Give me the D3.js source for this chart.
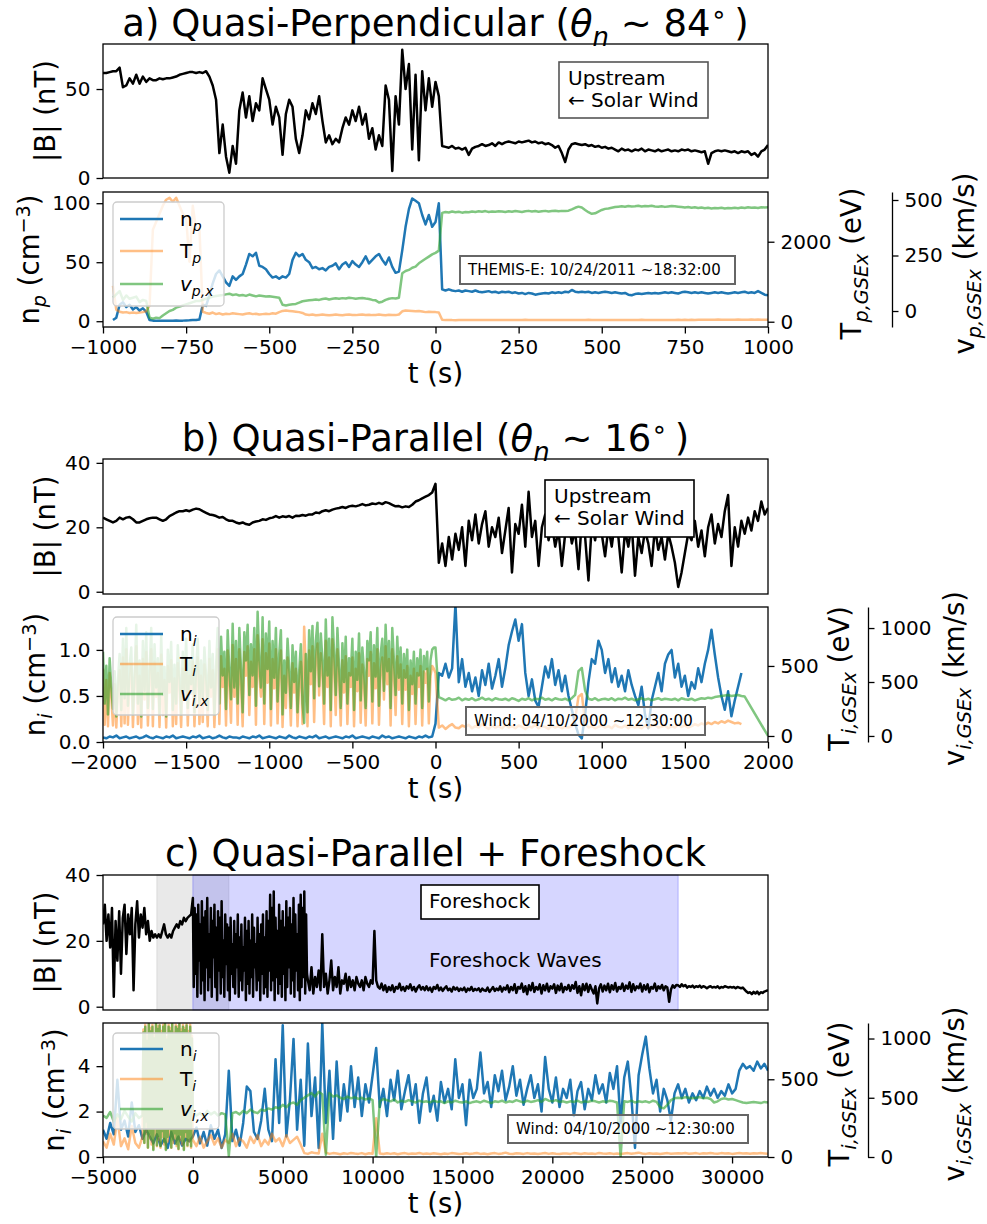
<!DOCTYPE html>
<html>
<head>
<meta charset="utf-8">
<script src="https://cdn.jsdelivr.net/npm/d3@7"></script>
<style>
  body { margin: 0; background: #fff; }
</style>
</head>
<body>
<script>
// ---------- data: panel a (THEMIS-E, quasi-perpendicular) ----------
// all series sampled every 10 s starting at t = -1000 s
const aStart = -1000, aStep = 10;
const bA = [
  59, 59, 59.5, 60, 60, 62, 51, 52, 56, 53,
  58, 53, 57, 54, 56, 55, 55, 56, 55.5, 56,
  56, 56.5, 57, 58, 58.5, 59, 59.5, 59.5, 59, 59.5,
  59, 60, 57, 52, 44, 14, 30, 12, 3, 18,
  8, 38, 48, 34, 46, 32, 42, 38, 56, 50,
  44, 30, 40, 34, 13, 36, 44, 40, 22, 14,
  24, 38, 33, 42, 36, 46, 32, 20, 24, 19,
  22, 20, 28, 34, 30, 38, 32, 40, 30, 36,
  22, 28, 16, 24, 18, 52, 44, 4, 46, 30,
  72, 50, 64, 16, 58, 10, 60, 38, 56, 40,
  54, 46, 18, 17.5, 17, 18, 16.5, 17, 16, 17,
  13, 16.5, 17.5, 18, 19, 18, 18.5, 19.5, 18, 20,
  19, 20, 20.5, 20, 19.5, 20.5, 20, 20.5, 21, 20,
  20.5, 19.5, 20, 19, 19.5, 18.5, 17, 18, 14, 9,
  16, 19, 19.5, 19, 18.5, 19, 18, 18.5, 17.5, 18,
  17, 17.5, 16.5, 17, 16, 15, 16.5, 15.5, 16, 15,
  16, 15.5, 16.5, 15, 16, 15.5, 15, 16, 15, 15.5,
  16, 15, 15.5, 15, 16, 15.5, 16, 15, 15.5, 15,
  14.5, 15, 8, 14, 15, 15.5, 15, 15.5, 15, 14.5,
  15, 14, 15, 14.5, 15, 13, 14, 12, 15, 16,
  18.5
];
const nA = [
  null, null, null, 1, 3, 14, 16, 12, 14, 10,
  12, 9, 11, 8, 1, 0.5, 0.5, 0.3, 0.5, 0.4,
  0.5, 0.5, 0.6, 0.5, 0.5, 0.7, 0.8, 1, 1, 1.5,
  14, 13, 22, 32, 40, 43, 38, 33, 30, 38,
  35, 38, 40, 48, 57, 55, 58, 47, 46, 44,
  40, 37, 38, 36, 38, 37, 40, 52, 58, 55,
  57, 52, 50, 45, 46, 44, 45, 43, 46, 47,
  49, 44, 48, 50, 46, 51, 48, 46, 50, 55,
  49, 52, 55, 57, 52, 48, 54, 46, 41, 42,
  60, 80, 95, 104, 102, 100, 90, 82, 90, 80,
  84, 100, 27, 26, 27, 26, 25.5, 26, 25, 26,
  25.5, 25, 26, 25, 24.5, 25, 25.5, 24.5, 25, 24,
  25, 24.5, 25, 24, 24.5, 23.5, 24, 23, 24, 23.5,
  22.5, 23, 23.5, 24, 23.5, 24.5, 24, 24.5, 24, 25,
  24.5, 26.5, 25, 24.5, 25, 24.5, 25, 24, 24.5, 24,
  24.5, 25, 24.5, 24, 24.5, 24, 23.5, 24, 22.5, 22,
  23, 23.5, 23, 23.5, 24, 23.5, 24, 23.5, 24, 24.5,
  24, 24.5, 24, 23.5, 24.5, 25, 24.5, 24, 24.5, 24,
  24.5, 24, 23.5, 24, 24.5, 24, 24.5, 24, 23.5, 24,
  24.5, 24, 24.5, 25, 24, 24.5, 24, 25.5, 24, 22.5,
  22
];
const tempA = [
  null, null, null, 900, 300, 250, 230, 240, 220, 230,
  220, 230, 240, 260, 400, 2300, 2500, 2700, 2900, 3050,
  3100, 3000, 3100, 2900, 2700, 2600, 1500, 2900, 2300, 2350,
  250, 220, 200, 230, 190, 210, 180, 200, 190, 210,
  200, 190, 180, 200, 210, 190, 200, 180, 190, 200,
  190, 210, 200, 240, 270, 280, 270, 260, 250, 240,
  220, 180, 170, 180, 160, 170, 180, 170, 160, 170,
  180, 170, 160, 175, 180, 170, 165, 175, 180, 170,
  175, 165, 170, 180, 170, 160, 175, 170, 165, 180,
  260, 280, 275, 270, 260, 270, 255, 240, 250, 245,
  240, 230, 50, 40, 45, 40, 38, 42, 40, 45,
  42, 45, 40, 44, 41, 46, 43, 40, 45, 42,
  44, 41, 46, 42, 40, 45, 43, 47, 42, 44,
  40, 45, 43, 41, 46, 44, 42, 45, 40, 43,
  46, 42, 44, 40, 45, 43, 47, 42, 44, 41,
  45, 43, 40, 46, 42, 44, 41, 45, 43, 46,
  42, 44, 47, 43, 45, 41, 46, 44, 42, 45,
  43, 46, 44, 48, 45, 47, 44, 49, 46, 48,
  50, 47, 52, 48, 50, 53, 49, 51, 48, 52,
  50, 53, 49, 52, 51, 54, 50, 53, 51, 52,
  50
];
const vA = [
  null, null, null, 60, 75, 90, 50, 70, 55, 60,
  65, 40, 50, 45, -30, -35, -30, -32, -20, -10,
  0, 5, 15, 20, 25, 30, 35, 40, 45, 45,
  50, 55, 60, 65, 68, 70, 72, 75, 78, 72,
  75, 70, 72, 68, 74, 70, 66, 70, 68, 65,
  66, 64, 62, 60, 28, 25, 28, 30, 32, 38,
  44, 46, 48, 50, 52, 50, 54, 56, 52, 55,
  57, 55, 58, 56, 60, 58, 55, 57, 59, 56,
  54, 50, 48, 38, 42, 50, 55, 58, 56, 60,
  170, 180, 185, 195, 200, 215, 225, 235, 245, 255,
  262, 272, 442, 446, 444, 448, 445, 447, 443, 446,
  445, 448, 446, 449, 447, 450, 446, 448, 447, 449,
  448, 446, 449, 447, 450, 448, 446, 449, 451, 448,
  450, 447, 449, 451, 448, 450, 452, 449, 451, 450,
  452, 458, 465, 470, 466, 455, 445, 438, 440, 448,
  455, 460, 462, 465, 468, 470, 472, 470, 473, 471,
  472, 474, 471, 473, 472, 474, 471, 470, 472, 469,
  471, 473, 472, 470, 468, 466, 468, 465, 467, 464,
  466, 463, 465, 462, 464, 463, 465, 462, 464, 463,
  465, 463, 466, 464, 467, 465, 466, 464, 467, 466,
  467
];

// ---------- data: panel b (Wind, quasi-parallel) ----------
// |B| and n every 20 s from t = -2000 s
const bStart = -2000, bStep = 20;
const bB = [
  23, 22.5, 22, 21.5, 22, 23, 22.5, 23, 23.2, 22.5,
  21.5, 21.5, 22, 22.5, 22.8, 23, 23, 22.5, 22, 22.5,
  23.5, 24, 24.6, 25, 25, 25.3, 25, 25.5, 25.8, 25.6,
  25, 24.5, 24, 23.8, 23.5, 23, 23.2, 22.5, 22, 22,
  21.5, 21.2, 21.5, 21, 20.8, 21.5, 21.8, 22, 22.5, 22.3,
  22.8, 23, 23.5, 23, 23.4, 23.2, 23.5, 23, 23.6, 23.5,
  23.8, 23.6, 24, 24, 24.6, 24.4, 25, 25.3, 25, 25.5,
  25.8, 26, 26.3, 26, 26.5, 26.7, 26.5, 26.8, 27.2, 26.8,
  27, 27.4, 27.2, 27.6, 27.2, 27.8, 27.5, 27, 26.5, 26.6,
  26.2, 26.5, 26.3, 27, 28, 28.4, 29, 29.5, 30, 30.8,
  33.5,
  9, 15, 8, 17, 10, 18, 13, 20, 8, 22,
  16, 24, 15, 21, 25, 14, 20, 17, 23, 12,
  19, 26, 6, 21, 18, 27, 14, 31, 17, 22,
  8, 20, 24, 16, 21, 14, 19, 8, 18, 22,
  15, 19, 7, 22, 17, 3.5, 21, 16, 23, 18,
  11, 20, 14, 22, 17, 6, 19, 14, 21, 5,
  17, 12, 19, 15, 8, 20, 13, 17, 10, 18,
  14, 9, 1.5, 6, 12, 18, 16, 22, 14, 19,
  11, 20, 24, 15, 21, 17, 25, 30, 8, 20,
  14, 22, 18, 23, 19, 25, 22, 28, 24, 26
];
const nB = [
  0.05, 0.04, 0.06, 0.05, 0.07, 0.04, 0.05, 0.06, 0.04, 0.05,
  0.06, 0.04, 0.05, 0.07, 0.05, 0.04, 0.06, 0.05, 0.04, 0.06,
  0.05, 0.07, 0.04, 0.05, 0.06, 0.05, 0.04, 0.06, 0.05, 0.07,
  0.04, 0.05, 0.06, 0.04, 0.05, 0.07, 0.05, 0.04, 0.06, 0.05,
  0.05, 0.04, 0.06, 0.05, 0.04, 0.06, 0.05, 0.07, 0.04, 0.05,
  0.06, 0.05, 0.04, 0.06, 0.05, 0.04, 0.07, 0.05, 0.04, 0.06,
  0.05, 0.04, 0.06, 0.05, 0.07, 0.04, 0.05, 0.06, 0.04, 0.05,
  0.06, 0.05, 0.04, 0.06, 0.05, 0.07, 0.04, 0.05, 0.06, 0.05,
  0.04, 0.06, 0.05, 0.04, 0.07, 0.05, 0.06, 0.04, 0.05, 0.06,
  0.05, 0.04, 0.06, 0.05, 0.04, 0.06, 0.05, 0.07, 0.05, 0.06,
  0.2,
  0.75, 0.72, 0.85, 0.7, 0.8, 1.5, 0.65, 0.9, 0.6, 0.75,
  0.55, 0.7, 0.5, 0.78, 0.62, 0.85, 0.58, 0.72, 0.9, 0.6,
  0.8, 1.05, 1.2, 1.33, 1.1, 1.28, 0.75, 0.5, 0.68, 0.45,
  0.38, 0.6, 0.82, 0.7, 0.9, 0.62, 0.78, 0.55, 0.72, 0.5,
  0.35, 0.2, 0.08, 0.04, 0.3, 0.65, 0.9, 0.85, 1.1, 1.0,
  0.75, 0.9, 0.65, 0.8, 0.6, 0.72, 0.55, 0.78, 0.62, 0.5,
  0.4, 0.6, 0.3, 0.15, 0.45, 0.6, 0.75, 0.55, 0.85, 0.95,
  1.0, 0.7, 0.85, 0.6, 0.72, 0.5, 0.65, 0.58, 0.8, 0.65,
  0.85, 1.0, 1.22, 0.95, 0.7, 0.5, 0.35, 0.55, 0.28, 0.45,
  0.6, 0.75, null, null, null, null, null, null, null, null
];
// T and v upstream of the shock: every 10 s from -2000 s to -10 s
const tempBpre = [
  480, 80, 400, 70, 450, 280, 75, 370, 60, 320,
  470, 70, 560, 90, 620, 80, 400, 510, 65, 350,
  640, 85, 430, 60, 550, 260, 600, 75, 370, 620,
  70, 530, 280, 450, 65, 580, 150, 400, 60, 500,
  310, 540, 70, 410, 85, 520, 350, 65, 480, 260,
  560, 75, 430, 300, 530, 70, 380, 560, 85, 430,
  100, 510, 350, 70, 550, 280, 470, 65, 400, 620,
  85, 570, 350, 480, 75, 610, 370, 95, 650, 280,
  550, 80, 620, 380, 70, 600, 430, 640, 150, 530,
  350, 620, 80, 720, 430, 280, 690, 85, 590, 380,
  660, 75, 550, 340, 620, 90, 470, 610, 65, 430,
  200, 560, 380, 75, 520, 310, 480, 70, 370, 530,
  85, 780, 470, 70, 610, 370, 640, 100, 550, 660,
  290, 590, 430, 85, 680, 350, 560, 70, 690, 480,
  150, 620, 400, 75, 540, 310, 570, 85, 450, 350,
  560, 70, 480, 320, 590, 95, 510, 370, 75, 550,
  430, 600, 90, 520, 340, 620, 80, 470, 560, 260,
  640, 370, 550, 75, 620, 430, 150, 570, 330, 510,
  85, 470, 330, 500, 70, 430, 300, 480, 85, 450,
  350, 500, 75, 460, 380, 480, 90, 430, 500, 480
];
const vBpre = [
  780, 300, 650, 200, 720, 450, 250, 600, 180, 520,
  760, 240, 900, 350, 1000, 280, 650, 820, 200, 560,
  1030, 300, 700, 180, 880, 420, 960, 260, 600, 1000,
  250, 850, 450, 720, 200, 930, 380, 640, 180, 800,
  500, 870, 240, 660, 300, 840, 560, 200, 780, 420,
  900, 260, 700, 480, 850, 220, 620, 900, 300, 700,
  350, 820, 560, 240, 880, 450, 760, 200, 640, 1000,
  300, 920, 560, 780, 250, 980, 600, 340, 1040, 450,
  880, 300, 1000, 620, 220, 960, 700, 1030, 380, 850,
  560, 1000, 280, 1150, 700, 450, 1100, 300, 950, 620,
  1060, 250, 880, 540, 1000, 320, 760, 980, 200, 700,
  400, 900, 620, 260, 840, 500, 780, 220, 600, 850,
  300, 120, 760, 220, 980, 600, 1020, 350, 880, 1050,
  460, 950, 700, 300, 1080, 560, 900, 240, 1100, 780,
  380, 1000, 640, 260, 860, 500, 920, 300, 720, 560,
  900, 240, 780, 520, 950, 330, 820, 600, 260, 880,
  700, 960, 320, 840, 550, 1000, 280, 760, 900, 420,
  1030, 600, 880, 260, 1000, 700, 380, 920, 540, 820,
  300, 760, 540, 800, 240, 700, 480, 780, 300, 720,
  560, 800, 260, 740, 620, 780, 320, 700, 800, 820
];
// T and v downstream: every 20 s from 0 s to 2000 s
const tempBpost = [
  450,
  60, 75, 50, 70, 85, 60, 55, 75, 65, 80,
  55, 70, 60, 85, 65, 50, 75, 60, 70, 55,
  80, 60, 70, 55, 75, 65, 50, 70, 60, 80,
  55, 70, 65, 50, 75, 60, 70, 55, 65, 60,
  70, 120, 280, 300, 90, 60, 70, 55, 65, 75,
  60, 70, 55, 80, 65, 60, 75, 55, 70, 60,
  65, 55, 75, 60, 70, 80, 60, 65, 75, 55,
  70, 60, 80, 65, 75, 60, 70, 85, 75, 90,
  80, 95, 85, 100, 90, 105, 95, 110, 100, 90,
  95, 85, null, null, null, null, null, null, null, null
];
const vBpost = [
  820,
  360, 345, 330, 350, 335, 340, 355, 330, 345, 335,
  350, 330, 340, 355, 335, 345, 330, 350, 340, 335,
  345, 330, 350, 340, 325, 345, 335, 350, 330, 345,
  340, 355, 335, 345, 330, 350, 340, 335, 345, 330,
  350, 380, 600, 630, 420, 345, 335, 350, 330, 340,
  345, 335, 350, 330, 345, 340, 355, 335, 345, 330,
  340, 350, 335, 345, 330, 340, 350, 335, 345, 340,
  335, 345, 330, 350, 340, 335, 345, 330, 340, 350,
  345, 355, 350, 360, 365, 370, 375, 380, 370, 375,
  380, 370, 365, null, null, null, null, null, null, 0
];

// ---------- data: panel c (Wind, quasi-parallel + foreshock) ----------
// |B|: every 100 s before the shock, every 50 s across 0-6350 s, every 100 s after
const bCpre = [
  25, 31, 20, 28, 18, 30, 3, 26, 14, 29,
  10, 27, 31, 16, 28, 22, 30, 5, 25, 32,
  21, 28, 24, 30, 22, 26, 20, 23, 21, 22,
  21, 22, 21, 23, 25, 22, 21, 22, 21, 23,
  24, 25, 24, 26, 25, 27, 26, 27, 27.5, 28
];
const bCshock = [
  33, 6, 30, 10, 28, 3, 31, 14, 25, 4,
  32, 8, 27, 2, 29, 12, 33, 5, 22, 9,
  30, 3, 26, 15, 31, 6, 24, 2, 29, 11,
  27, 4, 32, 9, 20, 3, 28, 13, 25, 5,
  24, 2, 27, 10, 19, 6, 26, 4, 22, 12,
  28, 3, 21, 8, 25, 5, 18, 11, 27, 2,
  23, 7, 26, 4, 20, 9, 28, 3, 24, 12,
  19, 5, 27, 8, 22, 2, 25, 10, 28, 4,
  21, 6, 29, 3, 26, 11, 34, 5, 30, 8,
  35, 2, 27, 9, 23, 4, 31, 7, 26, 3,
  29, 10, 24, 2, 32, 6, 27, 12, 30, 4,
  25, 8, 33, 3, 28, 11, 22, 5, 31, 2,
  34, 6, 30, 9, 35, 4, 28, 10
];
const bCpost = [
  8, 5, 12, 4, 9, 6,
  11, 5, 22, 6, 10, 4, 8, 14, 5, 9,
  6, 12, 4, 8, 7, 10, 5, 9, 6, 8,
  5, 9, 7, 6, 8, 5, 9, 7, 6, 8,
  7, 23, 8, 6, 5.5, 7, 5, 6.5, 4.5, 6,
  5, 6.5, 4.5, 6, 5.5, 7, 5, 6, 4.8, 6.2,
  5.5, 6.8, 5, 6, 4.6, 5.8, 6.5, 5.2, 6, 5,
  6.2, 5, 5.8, 4.5, 6, 5.4, 6.6, 5, 5.8, 4.8,
  5.6, 6.2, 5, 5.5, 4.6, 6, 5.2, 5.8, 4.8, 5.5,
  5, 5.8, 4.5, 5.5, 5, 6, 4.8, 5.4, 5, 5.6,
  4.6, 5.5, 5, 4.8, 5.8, 4.5, 5.2, 6, 4.8, 5.5,
  5, 6.2, 4.6, 5.8, 5.2, 6.5, 4.4, 6, 5, 6.8,
  4.2, 6, 5.5, 7, 4.5, 6.2, 3.8, 6.5, 5, 7.2,
  4.5, 6, 5.2, 6.8, 4, 6.5, 5, 7, 4.6, 6.2,
  5.5, 6.8, 4.2, 6.4, 5, 7, 4.4, 6, 5.2, 6.6,
  4.8, 6.5, 5.5, 7.5, 4.2, 6.2, 3.5, 6.8, 5, 7,
  4.5, 6.6, 5.2, 4, 6.2, 1, 5.5, 6.8, 4.6, 6.4,
  5, 7, 4.4, 6.5, 5.2, 7.2, 4.6, 6, 5.4, 7,
  4.8, 6.4, 5.5, 7.4, 4.5, 6.8, 5, 6.2, 5.6, 7,
  4.6, 6.5, 5.2, 6.8, 4.4, 6, 5.5, 7, 4.8, 6.2,
  5.5, 6.6, 5, 6.2, 5.8, 1.5, 5.2, 6.5, 5.8, 6.6,
  6.5, 6, 6.8, 6.2, 6.6, 5.8, 6.2, 6, 6.4, 5.8,
  6.2, 6, 6.4, 5.8, 6.2, 6, 5.6, 6, 6.2, 5.8,
  6, 5.8, 6.2, 5.6, 6, 5.8, 6.2, 6, 5.8, 6,
  5.8, 6, 5.6, 6, 5.8, 5.6, 5.8, 5.2, 4.6, 4.2,
  4.4, 3.8, 4.5, 4, 4.6, 3.8, 4.4, 4.2, 4.6, 4.8,
  5
];
// n every 200 s from -5000 s
const nC = [
  1.2, 0.8, 1.5, 1.0, 3.4, 1.2, 1.6, 0.9, 2.4, 1.1,
  1.4, 0.8, 1.2, 0.9, 0.6, 1.0, 0.5, 0.8, 0.4, 1.1,
  0.6, 0.9, 0.5, 0.8, 0.7, 0.9, 1.3, 0.6, 1.1, 0.5,
  1.4, 0.8, 1.2, 0.4, 1.0, 3.8, 0.7, 1.2, 0.5, 1.5,
  3.1, 2.9, 1.1, 0.8, 1.6, 3.0, 1.2, 0.7, 4.3, 1.5,
  5.8, 0.9, 2.5, 5.2, 1.2, 3.4, 0.5, 5.0, 1.8, 3.5,
  0.4, 5.9, 1.5, 3.8, 0.8, 4.2, 1.6, 3.2, 2.0, 4.0,
  2.2, 3.5, 1.8, 3.2, 2.4, 3.6, 4.8, 2.2, 3.0, 1.8,
  3.4, 2.5, 3.8, 2.1, 2.9, 3.6, 2.3, 3.2, 1.5, 2.8,
  3.5, 2.0, 2.7, 1.6, 3.3, 2.4, 3.0, 2.1, 4.3, 2.6,
  3.2, 1.4, 3.4, 2.6, 3.0, 4.6, 2.8, 3.3, 2.2, 3.6,
  2.9, 3.8, 2.5, 3.1, 4.0, 2.7, 3.4, 2.3, 3.0, 3.6,
  2.6, 3.2, 2.0, 4.4, 3.0, 2.4, 3.5, 2.2, 3.0, 2.6,
  3.4, 1.8, 2.9, 3.3, 2.1, 3.0, 2.5, 3.6, 2.8, 3.2,
  2.4, 3.7, 3.0, 4.0, 1.5, 3.5, 4.2, 2.6, 0.4, 3.6,
  4.5, 5.3, 3.9, 2.8, 3.4, 2.0, 3.0, 2.5, 1.6, 2.8,
  3.2, 2.6, 3.0, 2.4, 2.8, 2.5, 2.9, 2.6, 3.1, 2.7,
  3.0, 2.6, 2.9, 2.7, 3.2, 2.8, 3.0, 3.8, 4.1, 3.9,
  4.0, 3.8, 4.2, 3.9, 4.1, 3.8
];
// T and v: every 200 s for -5000..-2800, every 50 s for -2750..-50, every 200 s for 0..32000
const tempCpre = [100, 60, 150, 80, 250, 70, 120, 50, 200, 90, 60, 130];
const tempCburst = [
  820, 90, 850, 150, 780, 60, 860, 120, 830, 80,
  850, 50, 790, 140, 860, 70, 840, 110, 850, 60,
  810, 130, 850, 80, 860, 50, 770, 100, 850, 140,
  830, 60, 860, 90, 800, 120, 850, 70, 840, 50,
  860, 110, 820, 80, 850, 50, 830, 130, 855, 70,
  810, 100, 850, 60, 780
];
const tempCpost = [
  110, 70, 130, 60, 100,
  140, 80, 120, 60, 110, 90, 150, 70, 120, 100,
  60, 130, 90, 140, 70, 110, 80, 150, 100, 120,
  70, 140, 90, 110, 130, 80, 25, 20, 30, 25,
  22, 150, 28, 20, 25, 22, 18, 24, 20, 26,
  22, 20, 25, 18, 24, 21, 250, 22, 19, 24,
  20, 24, 18, 22, 25, 19, 23, 21, 26, 20,
  22, 19, 24, 21, 18, 23, 20, 25, 22, 19,
  21, 24, 19, 22, 26, 20, 23, 18, 22, 25,
  20, 23, 28, 21, 19, 24, 22, 20, 25, 21,
  23, 19, 22, 26, 20, 24, 21, 19, 23, 22,
  20, 25, 22, 19, 24, 21, 23, 20, 26, 22,
  21, 24, 20, 23, 19, 22, 25, 21, 24, 28,
  22, 20, 24, 21, 23, 19, 22, 25, 21, 23,
  24, 22, 26, 21, 23, 25, 20, 24, 22, 26,
  23, 21, 25, 22, 24, 20, 23, 25, 22, 24,
  21, 24, 22, 25, 23, 21
];
const vCpre = [350, 330, 380, 300, 360, 320, 390, 340, 300, 370, 330, 350];
const vCburst = [
  1050, 120, 1100, 300, 980, 80, 1120, 200, 1060, 150,
  1100, 60, 1000, 250, 1120, 100, 1080, 180, 1110, 90,
  1040, 220, 1100, 130, 1120, 60, 990, 170, 1100, 240,
  1060, 80, 1120, 150, 1030, 200, 1100, 110, 1080, 70,
  1120, 190, 1050, 140, 1100, 60, 1070, 210, 1110, 100,
  1040, 160, 1100, 90, 1000
];
const vCpost = [
  380, 350, 370, 340, 390,
  360, 380, 350, 370, 360, 10, 370, 380, 360, 390,
  370, 400, 380, 370, 400, 390, 410, 400, 420, 410,
  440, 420, 450, 460, 440, 480, 500, 520, 540, 510,
  550, 530, 20, 540, 510, 520, 500, 490, 510, 495,
  505, 490, 500, 485, 495, 480, 0, 470, 490, 480,
  470, 485, 460, 475, 465, 480, 470, 460, 475, 465,
  470, 460, 475, 465, 470, 455, 470, 460, 475, 465,
  460, 470, 455, 465, 470, 460, 475, 465, 455, 470,
  465, 475, 460, 470, 465, 480, 470, 460, 475, 465,
  470, 480, 465, 490, 475, 470, 480, 465, 470, 460,
  470, 465, 475, 460, 470, 465, 475, 470, 460, 470,
  465, 475, 470, 460, 0, 470, 465, 475, 460, 470,
  465, 470, 460, 475, 465, 420, 410, 440, 480, 495,
  500, 495, 505, 500, 495, 500, 505, 495, 500, 490,
  460, 470, 490, 495, 485, 490, 480, 470, 460, 455,
  460, 465, 460, 455, 465, 460
];

// ---------- ticks ----------
const ticksA = { x: [-1000, -750, -500, -250, 0, 250, 500, 750, 1000], b: [0, 50], n: [0, 50, 100], T: [0, 2000], v: [0, 250, 500] };
const ticksB = { x: [-2000, -1500, -1000, -500, 0, 500, 1000, 1500, 2000], b: [0, 20, 40], n: [0, 0.5, 1.0], T: [0, 500], v: [0, 500, 1000] };
const ticksC = { x: [-5000, 0, 5000, 10000, 15000, 20000, 25000, 30000], b: [0, 20, 40], n: [0, 2, 4], T: [0, 500], v: [0, 500, 1000] };

// ---------- drawing ----------
const X0 = 103, X1 = 768;
const BLUE = "#1f77b4", ORANGE = "#ff7f0e", GREEN = "#2ca02c";
const svg = d3.select("body").append("svg")
  .attr("width", 987).attr("height", 1224)
  .style("font-family", "'DejaVu Sans', sans-serif");
const defs = svg.append("defs");

function series(start, step, values) {
  return values.map((v, i) => ({ t: start + i * step, v: v })).filter(d => d.v !== null);
}

let clipCount = 0;
function makeClip(y0, y1) {
  const id = "clip" + clipCount++;
  defs.append("clipPath").attr("id", id).append("rect")
    .attr("x", X0).attr("y", y0).attr("width", X1 - X0).attr("height", y1 - y0);
  return id;
}

// mathtext-ish text: parts = [[string, kind]], kind "", "i", "sub", "sup"
function rich(sel, parts, size) {
  let cur = 0;
  parts.forEach(([s, kind]) => {
    let off = 0, fs = size, it = false;
    if (kind === "i") it = true;
    if (kind === "sub") { off = 0.26 * size; fs = 0.7 * size; it = true; }
    if (kind === "sup") { off = -0.34 * size; fs = 0.7 * size; }
    const ts = sel.append("tspan").attr("font-size", fs).attr("dy", off - cur).text(s);
    if (it) ts.attr("font-style", "italic");
    cur = off;
  });
}

function vText(x, y, parts, size) {
  const t = svg.append("text")
    .attr("transform", `translate(${x},${y}) rotate(-90)`)
    .attr("text-anchor", "middle").attr("font-size", size);
  rich(t, parts, size);
}

function drawLine(g, data, x, y, color, opacity, clipId) {
  g.append("path").datum(data)
    .attr("d", d3.line().x(d => x(d.t)).y(d => y(d.v)))
    .attr("fill", "none").attr("stroke", color).attr("stroke-opacity", opacity)
    .attr("stroke-width", 2.5).attr("stroke-linejoin", "round")
    .attr("clip-path", `url(#${clipId})`);
}

function styleAxis(g) {
  g.attr("font-family", null).attr("font-size", null);
  g.selectAll("text").attr("font-size", 20).attr("fill", "#000");
  g.selectAll("line").attr("stroke", "#000").attr("stroke-width", 1.3);
  g.selectAll(".domain").attr("stroke", "#000").attr("stroke-width", 1.3);
}

function frame(y0, y1) {
  svg.append("rect").attr("x", X0).attr("y", y0).attr("width", X1 - X0).attr("height", y1 - y0)
    .attr("fill", "none").attr("stroke", "#000").attr("stroke-width", 1.3);
}

function textBox(x, y, w, h, lines, opt) {
  svg.append("rect").attr("x", x).attr("y", y).attr("width", w).attr("height", h)
    .attr("fill", "#fff").attr("fill-opacity", opt.fillOp)
    .attr("stroke", opt.stroke).attr("stroke-width", opt.sw);
  lines.forEach(l => {
    svg.append("text").attr("x", l.x).attr("y", l.y).attr("font-size", opt.size).text(l.s);
  });
}

function legend(x, y, w, h, rows) {
  const g = svg.append("g");
  g.append("rect").attr("x", x).attr("y", y).attr("width", w).attr("height", h).attr("rx", 4)
    .attr("fill", "#fff").attr("fill-opacity", 0.8).attr("stroke", "#cccccc").attr("stroke-width", 1.3);
  rows.forEach(r => {
    g.append("line").attr("x1", x + 7).attr("x2", x + 50).attr("y1", r.y).attr("y2", r.y)
      .attr("stroke", r.color).attr("stroke-opacity", r.op).attr("stroke-width", 2.5);
    const t = g.append("text").attr("x", x + 67).attr("y", r.y + 7).attr("font-size", 20);
    rich(t, r.parts, 20);
  });
}

function panel(p) {
  const x = d3.scaleLinear().domain(p.xDomain).range([X0, X1]);
  const intFmt = d3.format("d");

  // --- |B| axes ---
  const [t0, t1] = p.top;
  const yB = d3.scaleLinear().domain(p.bDomain).range([t1, t0]);
  const clipTop = makeClip(t0, t1);
  const gTop = svg.append("g");
  (p.spans || []).forEach(s => {
    gTop.append("rect").attr("x", x(s.from)).attr("y", t0)
      .attr("width", x(s.to) - x(s.from)).attr("height", t1 - t0)
      .attr("fill", s.color).attr("fill-opacity", s.op)
      .attr("stroke", s.color).attr("stroke-opacity", s.op * 1.5);
  });
  drawLine(gTop, p.bData, x, yB, "#000", 1, clipTop);
  const axB = svg.append("g").attr("transform", `translate(${X0},0)`)
    .call(d3.axisLeft(yB).tickValues(p.ticks.b).tickFormat(intFmt).tickSize(6.5).tickPadding(6).tickSizeOuter(0));
  axB.select(".domain").remove();
  styleAxis(axB);

  // --- plasma axes ---
  const [b0, b1] = p.bot;
  const yN = d3.scaleLinear().domain(p.nDomain).range([b1, b0]);
  const yT = d3.scaleLinear().domain(p.tDomain).range([b1, b0]);
  const yV = d3.scaleLinear().domain(p.vDomain).range([b1, b0]);
  const clipBot = makeClip(b0, b1);
  const gBot = svg.append("g");
  drawLine(gBot, p.nData, x, yN, BLUE, 1, clipBot);
  drawLine(gBot, p.tData, x, yT, ORANGE, 0.5, clipBot);
  drawLine(gBot, p.vData, x, yV, GREEN, 0.6, clipBot);

  const axN = svg.append("g").attr("transform", `translate(${X0},0)`)
    .call(d3.axisLeft(yN).tickValues(p.ticks.n).tickFormat(p.nFmt).tickSize(6.5).tickPadding(6).tickSizeOuter(0));
  axN.select(".domain").remove();
  styleAxis(axN);
  const axT = svg.append("g").attr("transform", `translate(${X1},0)`)
    .call(d3.axisRight(yT).tickValues(p.ticks.T).tickFormat(intFmt).tickSize(6.5).tickPadding(6).tickSizeOuter(0));
  axT.select(".domain").remove();
  styleAxis(axT);
  const axV = svg.append("g").attr("transform", `translate(${p.vSpine},0)`)
    .call(d3.axisRight(yV).tickValues(p.ticks.v).tickFormat(intFmt).tickSize(6.5).tickPadding(6).tickSizeOuter(0));
  styleAxis(axV);
  const axX = svg.append("g").attr("transform", `translate(0,${b1})`)
    .call(d3.axisBottom(x).tickValues(p.ticks.x).tickFormat(intFmt).tickSize(6.5).tickPadding(6).tickSizeOuter(0));
  axX.select(".domain").remove();
  styleAxis(axX);

  // annotation box inside plasma axes
  textBox(p.note.x, p.note.y, p.note.w, 28,
    [{ x: p.note.x + 8, y: p.note.y + 19, s: p.note.s }],
    { fillOp: 0.7, stroke: "#666", sw: 2, size: 15 });

  frame(t0, t1);
  frame(b0, b1);

  // titles & labels
  const title = svg.append("text").attr("x", (X0 + X1) / 2).attr("y", p.titleY)
    .attr("text-anchor", "middle").attr("font-size", 37);
  rich(title, p.title, 37);
  vText(55, (t0 + t1) / 2, [["|B| (nT)", ""]], 27.5);
  vText(p.nLabelX, (b0 + b1) / 2, [["n", ""], [p.sp, "sub"], [" (cm", ""], ["\u22123", "sup"], [")", ""]], 27.5);
  vText(p.tLabelX, (b0 + b1) / 2 + 4, [["T", ""], [p.sp + ",GSEx", "sub"], [" (eV)", ""]], 27.5);
  vText(p.vLabelX, (b0 + b1) / 2 + 4, [["v", ""], [p.sp + ",GSEx", "sub"], [" (km/s)", ""]], 27.5);
  svg.append("text").attr("x", (X0 + X1) / 2).attr("y", b1 + 56)
    .attr("text-anchor", "middle").attr("font-size", 27.5).text("t (s)");
}

// ----- panel a -----
panel({
  xDomain: [-1000, 1000], ticks: ticksA,
  top: [44, 178], bDomain: [0, 75.3], bData: series(aStart, aStep, bA),
  bot: [192, 327], nDomain: [-4.9, 109.5], tDomain: [-132, 3243], vDomain: [-72, 536],
  nData: series(aStart, aStep, nA), tData: series(aStart, aStep, tempA), vData: series(aStart, aStep, vA),
  nFmt: d3.format("d"), vSpine: 892, sp: "p",
  nLabelX: 39, tLabelX: 861, vLabelX: 974,
  note: { x: 460, y: 256, w: 275, s: "THEMIS-E: 10/24/2011 ~18:32:00" },
  titleY: 36,
  title: [["a) Quasi-Perpendicular (", ""], ["\u03b8", "i"], ["n", "sub"], [" \u223c 84", ""], ["\u2218", "sup"], ["\u2009)", ""]]
});
textBox(559, 62, 149, 56, [{ x: 568, y: 85, s: "Upstream" }, { x: 568, y: 107, s: "\u2190 Solar Wind" }],
  { fillOp: 1, stroke: "#555", sw: 1.6, size: 20 });
legend(113, 202, 111, 104, [
  { y: 219, color: BLUE, op: 1, parts: [["n", ""], ["p", "sub"]] },
  { y: 251, color: ORANGE, op: 0.5, parts: [["T", ""], ["p", "sub"]] },
  { y: 284, color: GREEN, op: 0.6, parts: [["v", "i"], ["p,x", "sub"]] }
]);

// ----- panel b -----
panel({
  xDomain: [-2000, 2000], ticks: ticksB,
  top: [459, 594], bDomain: [-0.7, 41.2], bData: series(bStart, bStep, bB),
  bot: [607, 742], nDomain: [0, 1.466], tDomain: [-43, 921], vDomain: [-56, 1195],
  nData: series(bStart, bStep, nB),
  tData: series(-2000, 10, tempBpre).concat(series(0, 20, tempBpost)),
  vData: series(-2000, 10, vBpre).concat(series(0, 20, vBpost)),
  nFmt: d3.format(".1f"), vSpine: 868, sp: "i",
  nLabelX: 45, tLabelX: 849, vLabelX: 964,
  note: { x: 466, y: 707, w: 239, s: "Wind: 04/10/2000 ~12:30:00" },
  titleY: 451,
  title: [["b) Quasi-Parallel (", ""], ["\u03b8", "i"], ["n", "sub"], [" \u223c 16", ""], ["\u2218", "sup"], ["\u2009)", ""]]
});
textBox(545, 480, 149, 57, [{ x: 554, y: 503, s: "Upstream" }, { x: 554, y: 525, s: "\u2190 Solar Wind" }],
  { fillOp: 1, stroke: "#000", sw: 1.6, size: 20 });
legend(113, 617, 106, 98, [
  { y: 634, color: BLUE, op: 1, parts: [["n", ""], ["i", "sub"]] },
  { y: 664, color: ORANGE, op: 0.5, parts: [["T", ""], ["i", "sub"]] },
  { y: 694, color: GREEN, op: 0.6, parts: [["v", "i"], ["i,x", "sub"]] }
]);

// ----- panel c -----
panel({
  xDomain: [-5000, 32000], ticks: ticksC,
  top: [875, 1010], bDomain: [-1, 40],
  bData: series(-5000, 100, bCpre).concat(series(0, 50, bCshock), series(6400, 100, bCpost)),
  spans: [
    { from: -2000, to: 2000, color: "#d3d3d3", op: 0.5 },
    { from: 0, to: 27000, color: "#0000ff", op: 0.16 }
  ],
  bot: [1023, 1157], nDomain: [0, 5.9], tDomain: [0, 862], vDomain: [0, 1131],
  nData: series(-5000, 200, nC),
  tData: series(-5000, 200, tempCpre).concat(series(-2750, 50, tempCburst), series(0, 200, tempCpost)),
  vData: series(-5000, 200, vCpre).concat(series(-2750, 50, vCburst), series(0, 200, vCpost)),
  nFmt: d3.format("d"), vSpine: 868, sp: "i",
  nLabelX: 64, tLabelX: 849, vLabelX: 964,
  note: { x: 508, y: 1115, w: 240, s: "Wind: 04/10/2000 ~12:30:00" },
  titleY: 866,
  title: [["c) Quasi-Parallel + Foreshock", ""]]
});
textBox(421, 885, 118, 34, [{ x: 429, y: 908, s: "Foreshock" }],
  { fillOp: 1, stroke: "#000", sw: 1.6, size: 20 });
svg.append("text").attr("x", 429).attr("y", 967).attr("font-size", 20).text("Foreshock Waves");
legend(113, 1033, 106, 96, [
  { y: 1049, color: BLUE, op: 1, parts: [["n", ""], ["i", "sub"]] },
  { y: 1079, color: ORANGE, op: 0.5, parts: [["T", ""], ["i", "sub"]] },
  { y: 1109, color: GREEN, op: 0.6, parts: [["v", "i"], ["i,x", "sub"]] }
]);
</script>
</body>
</html>
